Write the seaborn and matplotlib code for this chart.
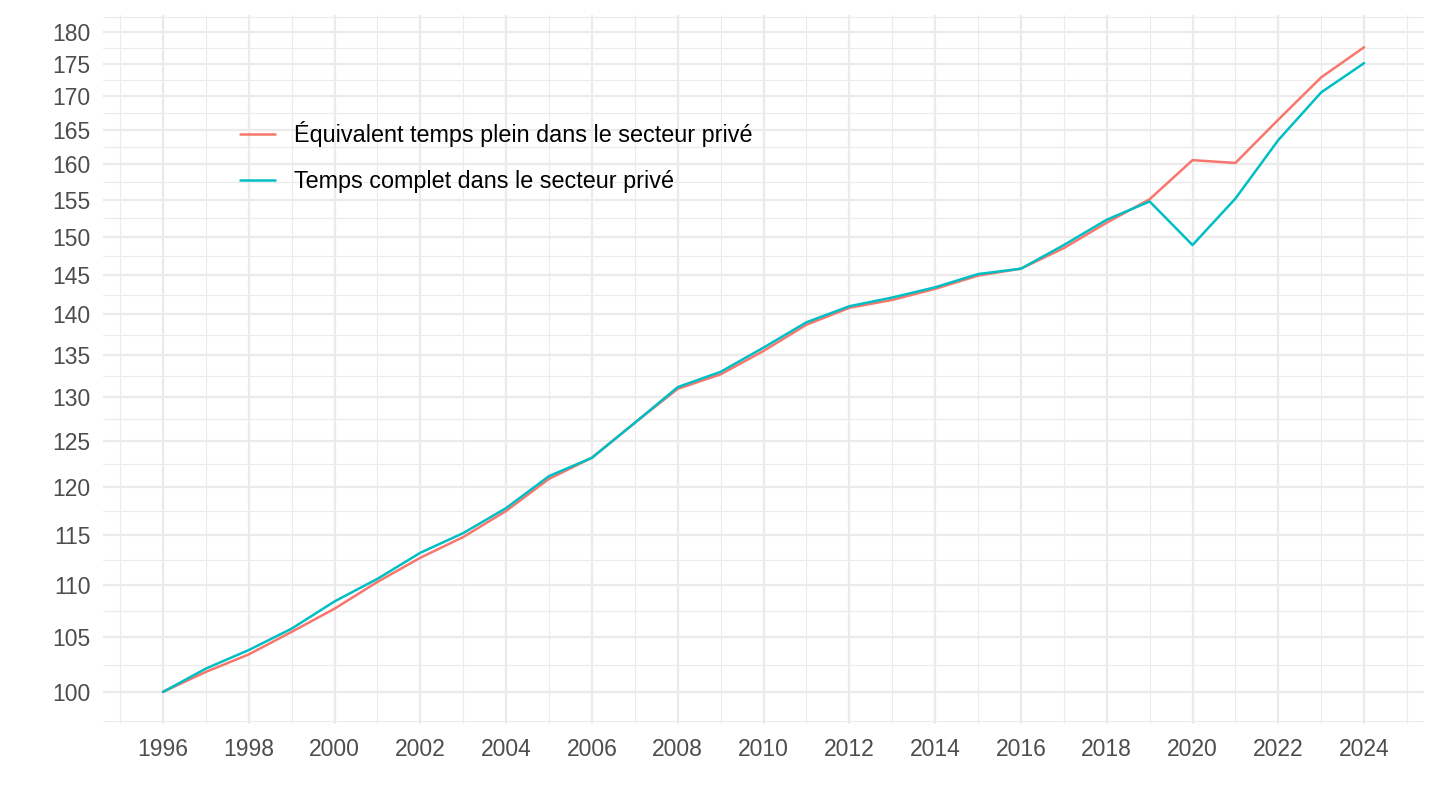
import numpy as np
import pandas as pd
import seaborn as sns
import matplotlib.pyplot as plt
from matplotlib.ticker import FixedLocator, NullFormatter

annees = list(range(1996, 2025))
etp_prive = [100.0, 101.8, 103.4, 105.5, 107.7, 110.3, 112.7, 114.8, 117.5, 120.9,
             123.2, 127.1, 131.0, 132.7, 135.5, 138.7, 140.8, 141.8, 143.2, 144.9,
             145.8, 148.5, 151.9, 155.1, 160.6, 160.2, 166.5, 172.9, 177.6]
complet_prive = [100.0, 102.1, 103.8, 105.8, 108.4, 110.6, 113.2, 115.2, 117.8, 121.2,
                 123.2, 127.1, 131.2, 133.0, 135.9, 139.0, 141.0, 142.1, 143.4, 145.1,
                 145.8, 148.9, 152.3, 154.8, 148.9, 155.2, 163.5, 170.6, 175.1]
noms = ["Équivalent temps plein dans le secteur privé",
        "Temps complet dans le secteur privé"]
couleurs = ["#F8766D", "#00BFC4"]
yticks = list(range(100, 181, 5))
xticks = list(range(1996, 2025, 2))

df = pd.DataFrame({
    "annee": annees * 2,
    "valeur": etp_prive + complet_prive,
    "serie": [noms[0]] * len(annees) + [noms[1]] * len(annees),
})

sns.set_theme(style="white")
plt.rcParams['font.family'] = ['Liberation Sans', 'DejaVu Sans']

fig = plt.figure(figsize=(14.4, 8.1), dpi=100)
ax = fig.add_axes([0.0715, 0.106, 0.9175, 0.8755])

sns.lineplot(data=df, x="annee", y="valeur", hue="serie", palette=couleurs,
             hue_order=noms, linewidth=1.8, ax=ax, zorder=3)

ax.set_yscale("log")
# expansion 5% comme ggplot
lo, hi = np.log(min(df["valeur"])), np.log(max(df["valeur"]))
d = (hi - lo) * 0.05
ax.set_ylim(np.exp(lo - d), np.exp(hi + d))
xr = annees[-1] - annees[0]
ax.set_xlim(annees[0] - xr * 0.05, annees[-1] + xr * 0.05)

ax.yaxis.set_major_locator(FixedLocator(yticks))
ax.set_yticklabels([str(t) for t in yticks])
ymin = [np.sqrt(a * b) for a, b in zip([95] + yticks, yticks + [185])]
ax.yaxis.set_minor_locator(FixedLocator(ymin))
ax.yaxis.set_minor_formatter(NullFormatter())

ax.set_xticks(xticks)
ax.set_xticklabels([str(t) for t in xticks])
ax.xaxis.set_minor_locator(FixedLocator(list(range(1995, 2026, 2))))

ax.grid(which="major", color="#EBEBEB", linewidth=1.6, zorder=0)
ax.grid(which="minor", color="#EBEBEB", linewidth=0.8, zorder=0)
ax.set_axisbelow(True)
for s in ax.spines.values():
    s.set_visible(False)
ax.tick_params(which="both", length=0, labelsize=16.5, labelcolor="#4D4D4D")
ax.tick_params(axis="x", pad=10)
ax.tick_params(axis="y", pad=9)
ax.set_xlabel("")
ax.set_ylabel("")

leg = ax.legend(title=None, frameon=False, fontsize=16.8, loc="upper left",
                bbox_to_anchor=(240 / 1440, 1 - 121 / 810), bbox_transform=fig.transFigure,
                borderpad=0, borderaxespad=0, handlelength=1.5, handletextpad=0.82,
                labelspacing=0.98)
for t in leg.get_texts():
    t.set_color("black")

fig.savefig("out.png", dpi=100)
